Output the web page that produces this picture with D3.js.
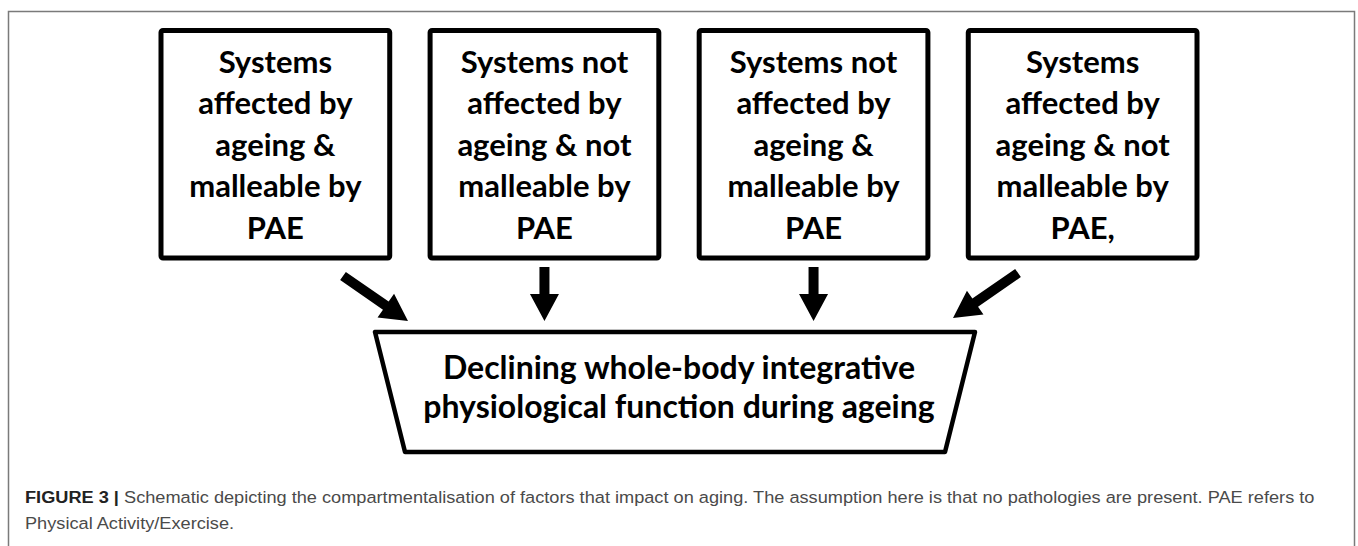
<!DOCTYPE html>
<html>
<head>
<meta charset="utf-8">
<title>Figure 3</title>
<script src="https://d3js.org/d3.v7.min.js"></script>
<style>
  body { margin: 0; background: #fff; }
</style>
</head>
<body>
<div id="chart"></div>
<script>
// the four compartments (one array of lines per box)
const boxLabels = [
  ["Systems", "affected by", "ageing &", "malleable by", "PAE"],
  ["Systems not", "affected by", "ageing & not", "malleable by", "PAE"],
  ["Systems not", "affected by", "ageing &", "malleable by", "PAE"],
  ["Systems", "affected by", "ageing & not", "malleable by", "PAE,"]
];
const outcomeLines = ["Declining whole-body integrative", "physiological function during ageing"];
const captionLead = "FIGURE 3 |";
const captionLines = [
  " Schematic depicting the compartmentalisation of factors that impact on aging. The assumption here is that no pathologies are present. PAE refers to",
  "Physical Activity/Exercise."
];

let W = 1358, H = 546;
let svg = d3.select("#chart").append("svg")
    .attr("width", W).attr("height", H);

// outer figure frame (runs off the bottom)
svg.append("rect")
    .attr("x", 8.5).attr("y", 11.5)
    .attr("width", 1346).attr("height", 600)
    .attr("fill", "none").attr("stroke", "#7a7a7a").attr("stroke-width", 1.5);

// horizontal placement of the boxes
let x = d3.scaleBand()
    .domain(d3.range(boxLabels.length))
    .range([161, 1197])
    .paddingInner(0.15);

let boxTop = 30.5, boxBottom = 258;
let lineGap = 41.5;
let font = "Lato, 'Open Sans', sans-serif";

let boxes = svg.selectAll("g.box")
    .data(boxLabels)
    .enter().append("g")
    .attr("class", "box");

boxes.append("rect")
    .attr("x", (d, i) => x(i))
    .attr("y", boxTop)
    .attr("width", x.bandwidth())
    .attr("height", boxBottom - boxTop)
    .attr("rx", 2)
    .attr("fill", "#fff").attr("stroke", "#000").attr("stroke-width", 5);

boxes.each(function(lines, i) {
  d3.select(this).selectAll("text")
    .data(lines)
    .enter().append("text")
    .attr("x", x(i) + x.bandwidth() / 2)
    .attr("y", (d, j) => boxTop + 42 + j * lineGap)
    .attr("text-anchor", "middle")
    .attr("font-family", font)
    .attr("font-weight", 700)
    .attr("font-size", "31px")
    .attr("fill", "#000")
    .text(d => d);
});

// trapezoid outcome box
let trapTop = 332, trapBottom = 452;
let trapL = 375, trapR = 975, inset = 30;
let trapCx = (trapL + trapR) / 2;
svg.append("path")
    .attr("d", d3.line()([[trapL, trapTop], [trapR, trapTop], [trapR - inset, trapBottom], [trapL + inset, trapBottom]]) + "Z")
    .attr("fill", "#fff").attr("stroke", "#000").attr("stroke-width", 4.5)
    .attr("stroke-linejoin", "round");

svg.selectAll("text.outcome")
    .data(outcomeLines)
    .enter().append("text")
    .attr("class", "outcome")
    .attr("x", trapCx + 4)
    .attr("y", (d, j) => 379 + j * 39)
    .attr("text-anchor", "middle")
    .attr("font-family", font)
    .attr("font-weight", 700)
    .attr("font-size", "32px")
    .text(d => d);

// arrows: tail -> tip, drawn as filled block arrows
function arrowPath(tail, tip, shaft, headW, headL) {
  let dx = tip[0] - tail[0], dy = tip[1] - tail[1];
  let len = Math.hypot(dx, dy);
  let ux = dx / len, uy = dy / len;
  let nx = -uy, ny = ux;
  let bx = tip[0] - ux * headL, by = tip[1] - uy * headL;
  let pts = [
    [tail[0] + nx * shaft / 2, tail[1] + ny * shaft / 2],
    [bx + nx * shaft / 2, by + ny * shaft / 2],
    [bx + nx * headW / 2, by + ny * headW / 2],
    tip,
    [bx - nx * headW / 2, by - ny * headW / 2],
    [bx - nx * shaft / 2, by - ny * shaft / 2],
    [tail[0] - nx * shaft / 2, tail[1] - ny * shaft / 2]
  ];
  return d3.line()(pts) + "Z";
}

let arrowTop = 267, arrowTip = 321;
let arrows = boxLabels.map((d, i) => {
  let cx = x(i) + x.bandwidth() / 2;
  if (i === 0) return [[trapL - 32, arrowTop + 9], [trapL + 33, arrowTip]];
  if (i === boxLabels.length - 1) return [[trapR + 43, arrowTop + 6], [trapR - 22, arrowTip - 3]];
  return [[cx, arrowTop], [cx, arrowTip]];
});

svg.selectAll("path.arrow")
    .data(arrows)
    .enter().append("path")
    .attr("class", "arrow")
    .attr("d", d => arrowPath(d[0], d[1], 10, 29, 27))
    .attr("fill", "#000");

// caption
let cap = svg.append("g").attr("transform", "translate(25,0)");
let capText = cap.selectAll("text")
    .data(captionLines)
    .enter().append("text")
    .attr("x", 0)
    .attr("y", (d, j) => 503 + j * 26)
    .attr("font-family", "'Liberation Sans', Arial, sans-serif")
    .attr("font-size", "17px")
    .attr("fill", "#4a4a4a");

capText.each(function(d, j) {
  let t = d3.select(this);
  if (j === 0) {
    t.append("tspan").attr("font-weight", 700).attr("fill", "#222").text(captionLead);
  }
  t.append("tspan").text(d);
});

// squeeze the caption to the narrow journal face
let natural = capText.nodes()[0].getComputedTextLength();
let sx = 1290 / natural;
cap.attr("transform", "translate(25,0) scale(" + sx + ",1)");
</script>
</body>
</html>
